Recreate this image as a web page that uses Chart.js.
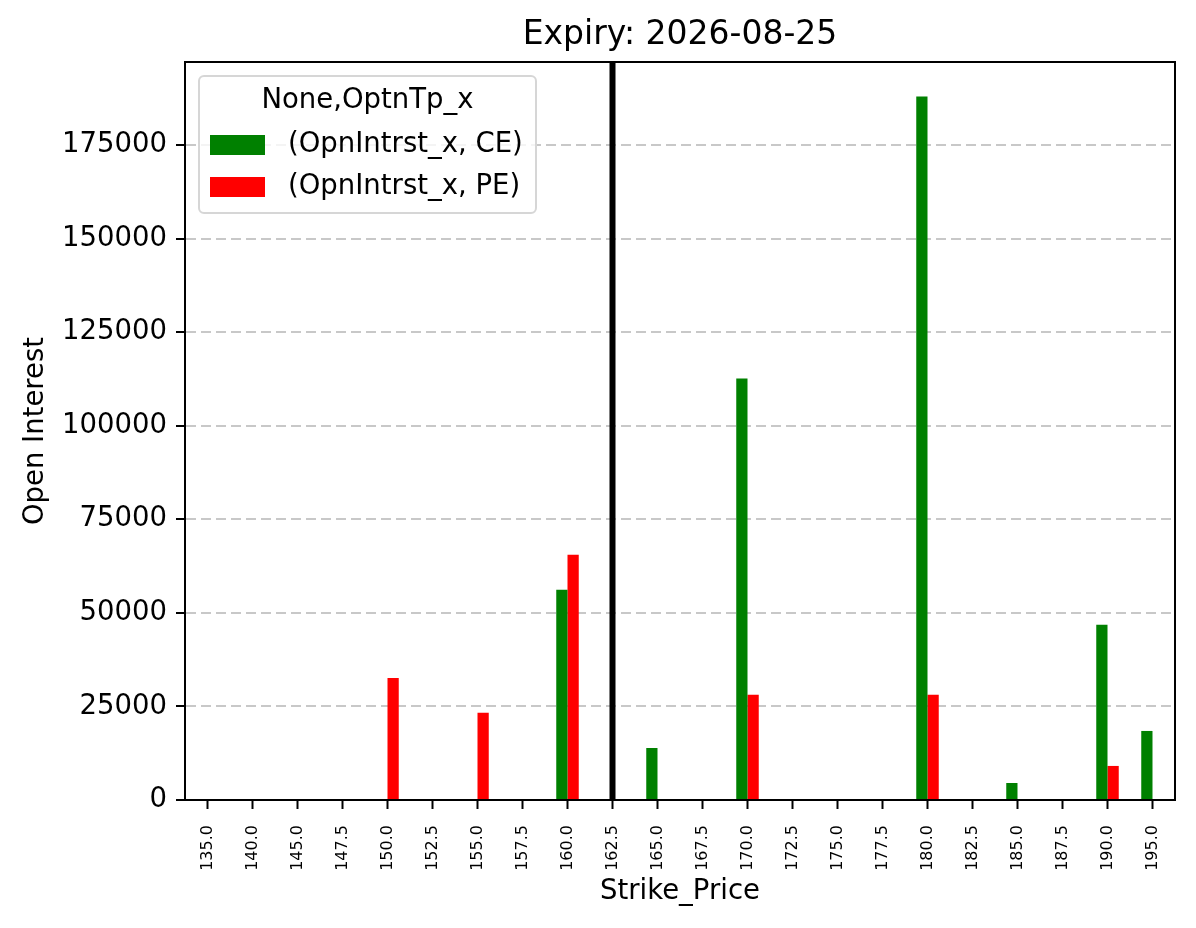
<!DOCTYPE html>
<html>
<head>
<meta charset="utf-8">
<script src="https://cdn.jsdelivr.net/npm/chart.js@4/dist/chart.umd.min.js"></script>
<style>
    body { margin: 0; background: #fff; }
    canvas { display: block; }
</style>
</head>
<body>
<canvas id="oi-chart" width="1196" height="928"></canvas>
<script>
// Datos
const strikes = ['135.0', '140.0', '145.0', '147.5', '150.0', '152.5', '155.0', '157.5', '160.0', '162.5',
    '165.0', '167.5', '170.0', '172.5', '175.0', '177.5', '180.0', '182.5', '185.0', '187.5', '190.0', '195.0'];
const ceOI = [null, null, null, null, null, null, null, null, 56200, null,
    13900, null, 112600, null, null, null, 188000, null, 4550, null, 46800, 18450];
const peOI = [null, null, null, null, 32600, null, 23300, null, 65500, null,
    null, null, 28100, null, null, null, 28100, null, null, null, 9100, null];
const yTicks = [0, 25000, 50000, 75000, 100000, 125000, 150000, 175000];
const spotStrike = '162.5';
const expiry = '2026-08-25';
const legendTitle = 'None,OptnTp_x';

const FONT = 'DejaVu Sans';

/**
 * Título centrado sobre los ejes, marco completo, línea del spot y leyenda
 */
const extrasPlugin = {
    id: 'extras',
    afterDatasetsDraw(chart) {
        const ctx = chart.ctx;
        const area = chart.chartArea;
        const xScale = chart.scales.x;

        // Línea vertical del precio spot
        const x = xScale.getPixelForValue(strikes.indexOf(spotStrike));
        ctx.save();
        ctx.strokeStyle = '#000';
        ctx.lineWidth = 6;
        ctx.beginPath();
        ctx.moveTo(x, area.top);
        ctx.lineTo(x, area.bottom);
        ctx.stroke();
        ctx.restore();
    },
    afterDraw(chart) {
        const ctx = chart.ctx;
        const area = chart.chartArea;

        ctx.save();
        // Título
        ctx.fillStyle = '#000';
        ctx.font = '33px "' + FONT + '"';
        ctx.textAlign = 'center';
        ctx.textBaseline = 'middle';
        ctx.fillText('Expiry: ' + expiry, (area.left + area.right) / 2, 35);

        // Marco (lados superior y derecho)
        ctx.strokeStyle = '#000';
        ctx.lineWidth = 2;
        ctx.strokeRect(area.left, area.top, area.right - area.left, area.bottom - area.top);

        // Leyenda
        const lx = area.left + 14, ly = area.top + 14, lw = 337, lh = 137;
        ctx.fillStyle = 'rgba(255,255,255,0.8)';
        ctx.strokeStyle = '#d6d6d6';
        ctx.lineWidth = 2;
        ctx.beginPath();
        ctx.roundRect(lx, ly, lw, lh, 5);
        ctx.fill();
        ctx.stroke();

        ctx.fillStyle = '#000';
        ctx.font = '27.5px "' + FONT + '"';
        ctx.textBaseline = 'middle';
        ctx.textAlign = 'center';
        ctx.fillText(legendTitle, lx + lw / 2, ly + 25);

        ctx.textAlign = 'left';
        chart.data.datasets.forEach(function(ds, i) {
            const rowY = ly + 69 + i * 42;
            ctx.fillStyle = ds.backgroundColor;
            ctx.fillRect(lx + 11, rowY - 10, 55, 20);
            ctx.fillStyle = '#000';
            ctx.fillText(ds.label, lx + 89, rowY);
        });
        ctx.restore();
    }
};

const ctx = document.getElementById('oi-chart').getContext('2d');

new Chart(ctx, {
    type: 'bar',
    data: {
        labels: strikes,
        datasets: [{
            label: '(OpnIntrst_x, CE)',
            data: ceOI,
            backgroundColor: '#008000',
            borderWidth: 0
        }, {
            label: '(OpnIntrst_x, PE)',
            data: peOI,
            backgroundColor: '#ff0000',
            borderWidth: 0
        }]
    },
    options: {
        responsive: false,
        devicePixelRatio: 1,
        animation: false,
        categoryPercentage: 0.5,
        barPercentage: 1.0,
        layout: {
            padding: { left: 0, right: 21, top: 62, bottom: 0 }
        },
        plugins: {
            legend: { display: false },
            tooltip: { enabled: false },
            title: { display: false }
        },
        scales: {
            x: {
                offset: true,
                afterFit: function(scale) { scale.height = 128; },
                grid: {
                    offset: false,
                    drawOnChartArea: false,
                    drawTicks: true,
                    tickLength: 9,
                    tickWidth: 2,
                    tickColor: '#000'
                },
                border: { display: true, color: '#000', width: 2 },
                ticks: {
                    color: '#000',
                    font: { family: FONT, size: 16 },
                    minRotation: 90,
                    maxRotation: 90,
                    autoSkip: false,
                    padding: 16
                },
                title: {
                    display: true,
                    text: 'Strike_Price',
                    color: '#000',
                    font: { family: FONT, size: 27.5 },
                    padding: { top: 0, bottom: 20 }
                }
            },
            y: {
                min: 0,
                max: 197200,
                afterFit: function(scale) { scale.width = 185; },
                afterBuildTicks: function(scale) {
                    scale.ticks = yTicks.map(v => ({ value: v }));
                },
                grid: {
                    color: 'rgba(176,176,176,0.7)',
                    lineWidth: 2,
                    tickLength: 9,
                    tickWidth: 2,
                    tickColor: '#000',
                    tickBorderDash: []
                },
                border: { display: true, color: '#000', width: 2, dash: [10, 5] },
                ticks: {
                    color: '#000',
                    font: { family: FONT, size: 27.5 },
                    padding: 9,
                    callback: function(v) { return String(v); }
                },
                title: {
                    display: true,
                    text: 'Open Interest',
                    color: '#000',
                    font: { family: FONT, size: 27.5 },
                    padding: { top: 19, bottom: 0 }
                }
            }
        }
    },
    plugins: [extrasPlugin]
});
</script>
</body>
</html>
